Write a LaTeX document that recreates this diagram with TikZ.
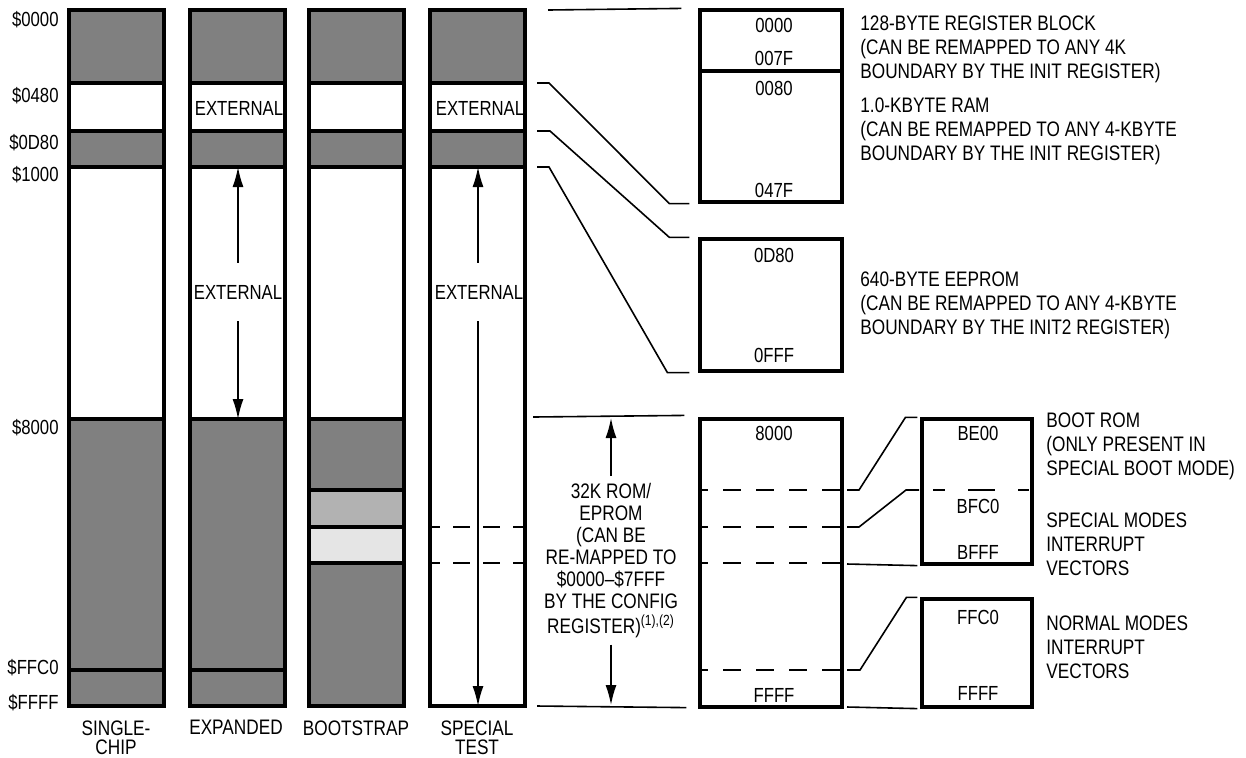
\documentclass[tikz,border=0pt]{standalone}
\usepackage{fontspec}
\setmainfont{Liberation Sans}[FakeStretch=0.82]
\usetikzlibrary{arrows.meta,fit}
\definecolor{romgray}{gray}{0.5}
\definecolor{bootgray}{gray}{0.7}
\definecolor{vecgray}{gray}{0.9}
\newcommand{\mapfont}{\fontsize{10.2}{12}\selectfont}
\newcommand{\notefont}{\fontsize{10.5}{12}\selectfont}

\begin{document}
\begin{tikzpicture}[x=0.5pt,y=-0.5pt]
\tikzstyle{every node}=[font=\mapfont, inner sep=0pt]
\tikzstyle{border}=[line width=1.6pt]
\tikzstyle{link}=[line width=0.8pt]
\tikzstyle{split}=[line width=1.2pt, dash pattern=on 8.5pt off 6.5pt, dash phase=3.5pt]
\tikzstyle{span}=[line width=0.8pt, -{Latex[length=10pt,width=5.5pt]}]
\tikzstyle{mapbox}=[draw, line width=1.6pt, inner sep=0pt]
\tikzstyle{ext}=[outer ysep=11pt]
\tikzstyle{mode}=[anchor=north, align=center, font=\fontsize{10.5}{9.5}\selectfont]
\tikzstyle{note}=[anchor=north west, align=left, font=\notefont]

\useasboundingbox (0,0) rectangle (1246,757);

% memory maps of the four modes
\foreach \x in {69,190,309,430}{
  \fill[romgray] (\x,10) rectangle ++(95,73);
  \fill[romgray] (\x,131) rectangle ++(95,36);
}
\foreach \x in {69,190,309}
  \fill[romgray] (\x,419) rectangle ++(95,287);
\fill[bootgray] (309,490) rectangle ++(95,37);
\fill[vecgray] (309,527) rectangle ++(95,36);

\foreach \x in {69,190,309,430}
  \foreach \y in {83,131,167}
    \draw[border] (\x,\y) -- ++(95,0);
\foreach \x in {69,190,309}
  \draw[border] (\x,419) -- ++(95,0);
\foreach \x in {69,190}
  \draw[border] (\x,670) -- ++(95,0);
\foreach \y in {490,527,563}
  \draw[border] (309,\y) -- ++(95,0);
\foreach \y in {527,563}
  \draw[split] (430,\y) -- ++(95,0);
\foreach \x in {69,190,309,430}
  \draw[border] (\x,10) rectangle ++(95,696);

% addresses
\node[anchor=east] (ad0000) at (59,20) {\$0000};
\node[anchor=east] (ad0480) at (59,96) {\$0480};
\node[anchor=east] (ad0d80) at (59,143) {\$0D80};
\node[anchor=east] (ad1000) at (59,175) {\$1000};
\node[anchor=east] (ad8000) at (59,428) {\$8000};
\node[anchor=east] (adffc0) at (59,668) {\$FFC0};
\node[anchor=east] (adffff) at (59,703) {\$FFFF};

% mode names
\node[mode] (msingle) at (116,720) {SINGLE-\\CHIP};
\node[mode] (mexp) at (236,720) {EXPANDED};
\node[mode] (mboot) at (356,720) {BOOTSTRAP};
\node[mode] (mtest) at (477,720) {SPECIAL\\TEST};

% external areas
\node (exsmall) at (239,108) {EXTERNAL};
\node (stsmall) at (480,108) {EXTERNAL};
\node[ext] (exlbl) at (238,292) {EXTERNAL};
\node[ext] (stlbl) at (479,292) {EXTERNAL};
\coordinate (ex1000) at (238,167);
\coordinate (ex8000) at (238,419);
\coordinate (st1000) at (478,167);
\coordinate (stffff) at (478,706);
\draw[span] (exlbl.north) -- (ex1000);
\draw[span] (exlbl.south) -- (ex8000);
\draw[span] ([xshift=-0.5pt]stlbl.north) -- (st1000);
\draw[span] ([xshift=-0.5pt]stlbl.south) -- (stffff);

% expanded blocks
\node[mapbox, fit={(700,10) (842,202)}] (regram) {};
\draw[border] (700,71) -- (842,71);
\node[mapbox, fit={(700,239) (842,371)}] (eeprom) {};
\node[mapbox, fit={(700,419) (842,707)}] (rom) {};
\foreach \y in {490,527,563,670}
  \draw[split, dash pattern=on 9pt off 7.5pt, dash phase=5pt] (700,\y) -- (842,\y);
\node[mapbox, fit={(922,419) (1032,564)}] (boot) {};
\coordinate (bfc0) at (922,490);
\draw[split, dash pattern=on 6pt off 11.5pt on 13.5pt off 11.5pt on 5.5pt off 5.5pt, dash phase=48pt] (bfc0) -- (1032,490);
\node[mapbox, fit={(922,599) (1032,707)}] (vec) {};

\node (bx0000) at (774,25) {0000};
\node (bx007f) at (774,58) {007F};
\node (bx0080) at (774,88) {0080};
\node (bx047f) at (774,190) {047F};
\node (bx0d80) at (774,255) {0D80};
\node (bx0fff) at (774,355) {0FFF};
\node (bx8000) at (774,433) {8000};
\node (bxffff) at (774,695) {FFFF};
\node (bxbe00) at (978,433) {BE00};
\node (bxbfc0) at (978,506) {BFC0};
\node (bxbfff) at (978,552) {BFFF};
\node (vxffc0) at (978,617) {FFC0};
\node (vxffff) at (978,693) {FFFF};

% links from the special test map
\coordinate (s0000) at (548,10);
\coordinate (s0480) at (537,83);
\coordinate (s0d80) at (537,131);
\coordinate (s1000) at (537,167);
\draw[link] (s0000) -- ([xshift=-8.5pt]regram.north west);
\draw[link] (s0480) -- ++(12,0) -- ([xshift=-14.5pt]regram.south west) -- ([xshift=-4.5pt]regram.south west);
\draw[link] (s0d80) -- ++(13,0) -- ([xshift=-14.5pt]eeprom.north west) -- ([xshift=-4.5pt]eeprom.north west);
\draw[link] (s1000) -- ++(12,0) -- ([xshift=-15.5pt]eeprom.south west) -- ([xshift=-4.5pt]eeprom.south west);

% rom span
\coordinate (s8000) at (533,417);
\coordinate (sffff) at (537,706);
\draw[link] (s8000) -- ([xshift=-7pt,yshift=1pt]rom.north west);
\draw[link] (sffff) -- ([xshift=-6pt,yshift=0.5pt]rom.south west);
\node[anchor=north, align=center, font=\fontsize{10.5}{11}\selectfont, outer ysep=3.5pt] (romlbl) at (611,476) {%
32K ROM/\\EPROM\\(CAN BE\\RE-MAPPED TO\\\$0000–\$7FFF\\BY THE CONFIG\\[1.5pt]REGISTER)\textsuperscript{(1),(2)}};
\coordinate (romtop) at (611,418);
\coordinate (rombot) at (611,705);
\draw[span] (romlbl.north) -- (romtop);
\draw[span] (romlbl.south) -- (rombot);

% links to boot rom and vectors
\coordinate (r490) at (847,490);
\coordinate (r527) at (847,527);
\coordinate (r563) at (847,564);
\coordinate (r670) at (847,670);
\coordinate (r707) at (847,707);
\draw[link] (r490) -- ++(12,0) -- ([xshift=-7.5pt]boot.north west) -- ([xshift=-1.5pt]boot.north west);
\draw[link] (r527) -- ++(12,0) -- ([xshift=-8pt]bfc0) -- ([xshift=-1.5pt]bfc0);
\draw[link] (r563) -- ([xshift=-1.5pt]boot.south west);
\draw[link] (r670) -- ++(13,0) -- ([xshift=-7pt]vec.north west) -- ([xshift=-1.5pt]vec.north west);
\draw[link] (r707) -- ([xshift=-1.5pt]vec.south west);

% notes
\node[note] (regnote) at (860,15) {128-BYTE REGISTER BLOCK\\(CAN BE REMAPPED TO ANY 4K\\BOUNDARY BY THE INIT REGISTER)};
\node[note] (ramnote) at (860,97) {1.0-KBYTE RAM\\(CAN BE REMAPPED TO ANY 4-KBYTE\\BOUNDARY BY THE INIT REGISTER)};
\node[note] (eenote) at (860,271) {640-BYTE EEPROM\\(CAN BE REMAPPED TO ANY 4-KBYTE\\BOUNDARY BY THE INIT2 REGISTER)};
\node[note] (bootnote) at (1046,412) {BOOT ROM\\(ONLY PRESENT IN\\SPECIAL BOOT MODE)};
\node[note] (specnote) at (1046,512) {SPECIAL MODES\\INTERRUPT\\VECTORS};
\node[note] (normnote) at (1046,615) {NORMAL MODES\\INTERRUPT\\VECTORS};

\end{tikzpicture}
\end{document}
